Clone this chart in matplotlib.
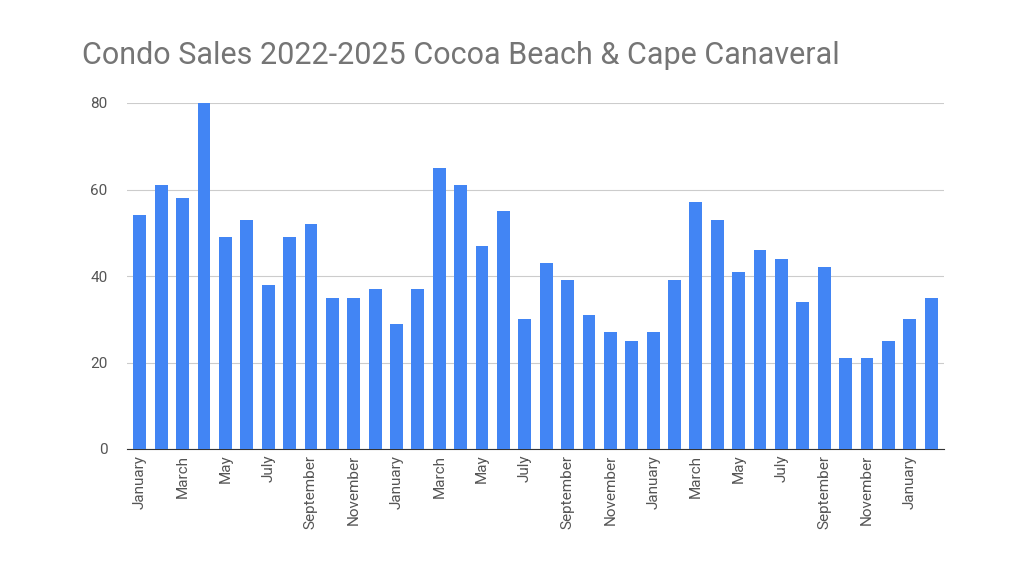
import matplotlib
matplotlib.use("Agg")
import matplotlib.pyplot as plt

months = ["January","February","March","April","May","June","July","August","September","October","November","December"]
labels = (months*4)[:38]
values = [54,61,58,80,49,53,38,49,52,35,35,37,
          29,37,65,61,47,55,30,43,39,31,27,25,
          27,39,57,53,41,46,44,34,42,21,21,25,
          30,35]

plt.rcParams['font.family'] = ['Roboto', 'DejaVu Sans']
fig = plt.figure(figsize=(10.24,5.76), dpi=100)
ax = fig.add_axes([127/1024, 1-449/576, (944-127)/1024, (449-103)/576])
x = range(len(values))
ax.bar(x, values, width=0.6, color="#4285F4", zorder=3)
ax.set_xlim(-0.6, len(values)-0.4)
ax.set_ylim(0, 80)
ax.set_yticks([0,20,40,60,80])
ax.grid(axis='y', color='#cccccc', lw=0.8, zorder=0)
ax.set_xticks(list(x)[::2])
ax.set_xticklabels(labels[::2], rotation=90, color='#555555', fontsize=11)
ax.tick_params(axis='y', colors='#555555', labelsize=11, length=0, pad=14)
ax.tick_params(axis='x', length=0, pad=4)
for s in ['top','right','left']:
    ax.spines[s].set_visible(False)
ax.spines['bottom'].set_color('#333333')
fig.text(82/1024, 1-55/576, "Condo Sales 2022-2025 Cocoa Beach & Cape Canaveral",
         fontsize=22, color='#757575', va='center')
fig.savefig("out.png", dpi=100)
